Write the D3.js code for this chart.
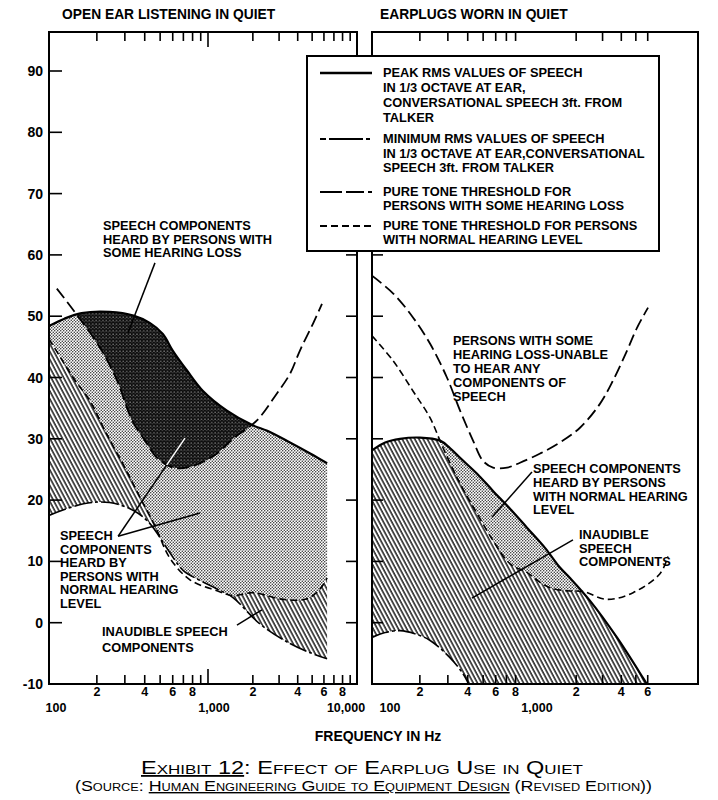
<!DOCTYPE html>
<html>
<head>
<meta charset="utf-8">
<script src="https://cdn.jsdelivr.net/npm/d3@7"></script>
<style>
  body { margin: 0; background: #fff; }
  svg { display: block; }
</style>
</head>
<body>
<svg id="chart" width="718" height="800"></svg>
<script>

// ---- data: [frequency Hz, level dB] ----
const openPeak = [[100, 48.4], [125, 49.6], [160, 50.5], [240, 50.7], [340, 50.1], [430, 48.9], [520, 47.1], [600, 44.4], [740, 41.1], [930, 37.8], [1340, 34.6], [2000, 32.2], [2500, 31.3], [3550, 29.4], [4850, 27.6], [6300, 26.0]];
const openMin = [[100, 17.5], [165, 19.4], [240, 19.6], [340, 18.3], [430, 16.2], [550, 12.2], [700, 8.5], [890, 6.9], [1150, 5.5], [1470, 4.1], [2230, -0.2], [3550, -3.4], [4850, -4.9], [6300, -5.9]];
const openNormal = [[100, 46.3], [146, 39.5], [181, 36.2], [225, 31.3], [300, 25.3], [373, 20.5], [464, 15.8], [577, 10.5], [770, 7.0], [1150, 5.2], [1470, 4.4], [2000, 4.9], [3190, 3.8], [4620, 3.9], [5650, 5.5], [6300, 7.3]];
const openHearingLoss = [[112, 54.5], [146, 50.6], [209, 44.9], [268, 39.5], [333, 33.0], [402, 29.7], [478, 26.9], [603, 25.3], [770, 25.4], [958, 26.4], [1150, 27.6], [1470, 30.0], [2130, 33.0], [2900, 37.4], [3550, 40.6], [4140, 44.4], [5070, 48.8], [5820, 52.0]];

const plugPeak = [[100, 28.1], [121, 29.4], [150, 30.0], [200, 30.2], [268, 29.7], [309, 28.5], [358, 26.9], [458, 24.3], [577, 21.5], [738, 18.6], [944, 15.5], [1240, 12.2], [1560, 9.0], [1820, 7.3], [2470, 3.6], [3740, -2.4], [5580, -9.0], [6300, -11.1]];
const plugMin = [[100, -2.4], [121, -1.6], [150, -1.3], [186, -1.8], [232, -2.9], [309, -5.7], [373, -8.3], [413, -10.4], [478, -13.5]];
const plugNormal = [[100, 46.8], [136, 42.7], [181, 37.8], [232, 33.4], [280, 28.5], [358, 22.7], [458, 17.8], [577, 13.4], [738, 9.6], [944, 8.2], [1100, 6.9], [1340, 5.7], [1740, 5.2], [2220, 5.1], [3210, 3.8], [4790, 4.9], [7240, 8.0], [8190, 10.8]];
const plugHearingLoss = [[100, 56.6], [136, 53.7], [181, 49.8], [232, 45.5], [296, 40.0], [358, 34.6], [432, 29.7], [499, 26.4], [577, 25.3], [707, 25.3], [853, 26.1], [1150, 27.6], [1560, 29.4], [2120, 31.8], [2880, 35.7], [3520, 39.5], [4370, 44.4], [5090, 48.1], [6030, 51.4]];

// ---- ticks and labels ----
const dbTicks = [-10, 0, 10, 20, 30, 40, 50, 60, 70, 80, 90];
const openFreqTicks = [200, 300, 400, 500, 600, 700, 800, 900, 2000, 3000, 4000, 5000, 6000, 7000, 8000, 9000];
const plugFreqTicks = [200, 300, 400, 500, 600, 700, 800, 2000, 3000, 4000, 5000, 6000];
const openDigitTicks = [200, 400, 600, 800, 2000, 4000, 6000, 8000];
const plugDigitTicks = [200, 400, 600, 800, 2000, 4000, 6000];
const openDecades = [100, 1000, 10000];
const plugDecades = [100, 1000];
const decadeNames = { 100: "100", 1000: "1,000", 10000: "10,000" };

const legendTexts = [
    ["PEAK RMS VALUES OF SPEECH", "IN 1/3 OCTAVE AT EAR,", "CONVERSATIONAL SPEECH 3ft. FROM", "TALKER"],
    ["MINIMUM RMS VALUES OF SPEECH", "IN 1/3 OCTAVE AT EAR,CONVERSATIONAL", "SPEECH 3ft. FROM TALKER"],
    ["PURE TONE THRESHOLD FOR", "PERSONS WITH SOME HEARING LOSS"],
    ["PURE TONE THRESHOLD FOR PERSONS", "WITH NORMAL HEARING LEVEL"],
];
const lossLabel = ["SPEECH COMPONENTS", "HEARD BY PERSONS WITH", "SOME HEARING LOSS"];
const openNormalLabel = ["SPEECH", "COMPONENTS", "HEARD BY", "PERSONS WITH", "NORMAL HEARING", "LEVEL"];
const openInaudibleLabel = ["INAUDIBLE SPEECH", "COMPONENTS"];
const unableLabel = ["PERSONS WITH SOME", "HEARING LOSS-UNABLE", "TO HEAR ANY", "COMPONENTS OF", "SPEECH"];
const plugNormalLabel = ["SPEECH COMPONENTS", "HEARD BY PERSONS", "WITH NORMAL HEARING", "LEVEL"];
const plugInaudibleLabel = ["INAUDIBLE", "SPEECH", "COMPONENTS"];

// ---- layout ----
const FONT = "'Liberation Sans', Arial, Helvetica, sans-serif";
const TOP = 32, BOTTOM = 684;
const LABEL_SIZE = 12.8;
const styles = {
    peak: { width: 2.2, dash: null },
    min: { width: 1.6, dash: "18,3,3,3" },
    loss: { width: 1.8, dash: "12,5" },
    normal: { width: 1.6, dash: "7,4" },
};

const svg = d3.select("#chart");
svg.append("rect").attr("width", 718).attr("height", 800).attr("fill", "#fff");
const defs = svg.append("defs");

const y = d3.scaleLinear().domain([-10, 90]).range([BOTTOM, 71]);
const xOpen = d3.scaleLog().domain([100, 1000, 10000]).range([49, 208, 357]);
const xPlug = d3.scaleLog().domain([100, 1000, 10000]).range([372, 531, 681]);

// textures
const hatch = defs.append("pattern").attr("id", "hatch")
    .attr("patternUnits", "userSpaceOnUse")
    .attr("width", 3.7).attr("height", 10)
    .attr("patternTransform", "rotate(-28)");
hatch.append("rect").attr("width", 3.7).attr("height", 10).attr("fill", "#fff");
hatch.append("line").attr("x1", 1).attr("x2", 1).attr("y1", -1).attr("y2", 11)
    .attr("stroke", "#000").attr("stroke-width", 1.35);

const light = defs.append("pattern").attr("id", "lightDots")
    .attr("patternUnits", "userSpaceOnUse").attr("width", 3).attr("height", 3);
light.append("rect").attr("width", 3).attr("height", 3).attr("fill", "#fff");
light.append("circle").attr("cx", 0.75).attr("cy", 0.75).attr("r", 0.72).attr("fill", "#222");
light.append("circle").attr("cx", 2.25).attr("cy", 2.25).attr("r", 0.72).attr("fill", "#222");

const dark = defs.append("pattern").attr("id", "darkDots")
    .attr("patternUnits", "userSpaceOnUse").attr("width", 3.4).attr("height", 3.4);
dark.append("rect").attr("width", 3.4).attr("height", 3.4).attr("fill", "#0c0c0c");
dark.append("circle").attr("cx", 0.9).attr("cy", 0.9).attr("r", 0.58).attr("fill", "#fff");
dark.append("circle").attr("cx", 2.6).attr("cy", 2.4).attr("r", 0.42).attr("fill", "#ddd");

const panels = [
    {
        id: "open", x: xOpen, left: 49, right: 357, title: "OPEN EAR LISTENING IN QUIET", titleX: 62,
        peak: openPeak, min: openMin, normal: openNormal, loss: openHearingLoss,
        ticks: openFreqTicks, tall: true, digits: openDigitTicks, decades: openDecades, decadeDx: [7, 6, -11],
    },
    {
        id: "plug", x: xPlug, left: 372, right: 698, title: "EARPLUGS WORN IN QUIET", titleX: 380,
        peak: plugPeak, min: plugMin, normal: plugNormal, loss: plugHearingLoss,
        ticks: plugFreqTicks, tall: false, digits: plugDigitTicks, decades: plugDecades, decadeDx: [18, 6],
    },
];

const addText = (x, y0, dy, lines, size) => {
    const t = svg.append("text")
        .attr("font-family", FONT).attr("font-weight", "bold").attr("font-size", size || LABEL_SIZE)
        .attr("fill", "#000");
    lines.forEach((s, i) => t.append("tspan").attr("x", x).attr("y", y0 + i * dy).text(s));
    return t;
};

drawPanel = (p) => {
    const line = d3.line()
        .x(d => p.x(d[0]))
        .y(d => y(d[1]))
        .curve(d3.curveCatmullRom.alpha(0.5));
    const upTo = pts => line(pts) +
        `L${p.x(pts[pts.length - 1][0])},${TOP - 10}L${p.x(pts[0][0])},${TOP - 10}Z`;
    const speech = line(p.peak) + line(p.min.slice().reverse()).replace(/^M/, "L") + "Z";

    defs.append("clipPath").attr("id", `frame-${p.id}`)
        .append("rect").attr("x", p.left).attr("y", TOP)
        .attr("width", p.right - p.left).attr("height", BOTTOM - TOP);
    defs.append("clipPath").attr("id", `speech-${p.id}`).append("path").attr("d", speech);
    defs.append("clipPath").attr("id", `loss-${p.id}`).append("path").attr("d", upTo(p.loss));

    const g = svg.append("g").attr("clip-path", `url(#frame-${p.id})`);
    g.append("path").attr("d", speech).attr("fill", "url(#hatch)");

    const inner = g.append("g").attr("clip-path", `url(#speech-${p.id})`);
    inner.append("path").attr("d", upTo(p.normal)).attr("fill", "url(#lightDots)");
    inner.append("path").attr("d", upTo(p.loss)).attr("fill", "url(#darkDots)");

    [["min", p.min], ["normal", p.normal], ["loss", p.loss], ["peak", p.peak]].forEach(([k, pts]) => {
        g.append("path")
            .attr("d", line(pts))
            .attr("fill", "none")
            .attr("stroke", "#000")
            .attr("stroke-width", styles[k].width)
            .attr("stroke-dasharray", styles[k].dash)
            .attr("stroke-linecap", "butt");
    });

    // frame
    svg.append("rect")
        .attr("x", p.left).attr("y", TOP)
        .attr("width", p.right - p.left).attr("height", BOTTOM - TOP)
        .attr("fill", "none").attr("stroke", "#000").attr("stroke-width", 2);

    const ax = svg.append("g").attr("stroke", "#000").attr("stroke-width", 1.6);
    // level ticks on the frame sides
    dbTicks.forEach(v => {
        ax.append("line").attr("x1", p.left).attr("x2", p.left + (p.id === "open" ? 13 : 11))
            .attr("y1", y(v)).attr("y2", y(v));
        if (p.id === "open") {
            ax.append("line").attr("x1", p.right - 11).attr("x2", p.right)
                .attr("y1", y(v)).attr("y2", y(v));
        }
    });
    // frequency ticks, top and bottom
    p.ticks.forEach(f => {
        ax.append("line").attr("x1", p.x(f)).attr("x2", p.x(f)).attr("y1", TOP).attr("y2", TOP + 9);
        ax.append("line").attr("x1", p.x(f)).attr("x2", p.x(f)).attr("y1", BOTTOM).attr("y2", BOTTOM - 9);
    });
    if (p.tall) {
        ax.append("line").attr("x1", p.x(1000)).attr("x2", p.x(1000)).attr("y1", TOP).attr("y2", TOP + 15);
        ax.append("line").attr("x1", p.x(1000)).attr("x2", p.x(1000)).attr("y1", BOTTOM).attr("y2", BOTTOM - 15);
    }

    // labels under the axis
    svg.append("g").selectAll("text")
        .data(p.digits)
        .join("text")
        .attr("x", d => p.x(d))
        .attr("y", 696)
        .attr("text-anchor", "middle")
        .attr("font-family", FONT).attr("font-weight", "bold").attr("font-size", 12.5)
        .text(d => String(d).charAt(0));
    svg.append("g").selectAll("text")
        .data(p.decades)
        .join("text")
        .attr("x", (d, i) => p.x(d) + p.decadeDx[i])
        .attr("y", 712)
        .attr("text-anchor", "middle")
        .attr("font-family", FONT).attr("font-weight", "bold").attr("font-size", 12.5)
        .text(d => decadeNames[d]);

    svg.append("text")
        .attr("x", p.titleX).attr("y", 19)
        .attr("font-family", FONT).attr("font-weight", "bold").attr("font-size", 13.8)
        .text(p.title);
};

panels.forEach(drawPanel);

// level labels
svg.append("g").selectAll("text")
    .data(dbTicks)
    .join("text")
    .attr("x", 43)
    .attr("y", d => y(d) + 5)
    .attr("text-anchor", "end")
    .attr("font-family", FONT).attr("font-weight", "bold").attr("font-size", 14)
    .text(d => d < 0 ? "-" + Math.abs(d) : d);

svg.append("text")
    .attr("x", 378).attr("y", 741)
    .attr("text-anchor", "middle")
    .attr("font-family", FONT).attr("font-weight", "bold").attr("font-size", 14)
    .text("FREQUENCY IN Hz");

// legend
const leg = svg.append("g");
leg.append("rect").attr("x", 307).attr("y", 56).attr("width", 352).attr("height", 195)
    .attr("fill", "#fff").attr("stroke", "#000").attr("stroke-width", 2);
const legendKeys = ["peak", "min", "loss", "normal"];
const legendTop = [77, 143, 196, 230];
const legendStep = [15, 14.5, 13.6, 13.6];
legendTexts.forEach((lines, i) => {
    const k = legendKeys[i];
    leg.append("line")
        .attr("x1", 320).attr("x2", 372)
        .attr("y1", legendTop[i] - 4).attr("y2", legendTop[i] - 4)
        .attr("stroke", "#000").attr("stroke-width", styles[k].width + 0.4)
        .attr("stroke-dasharray", k === "min" ? "6,3,34,3,4" : k === "loss" ? "22,4,18,4,4" : styles[k].dash);
    addText(383, legendTop[i], legendStep[i], lines);
});

// annotations
const lead = (x, a, b, color) => svg.append("line")
    .attr("x1", x(a[0])).attr("y1", y(a[1]))
    .attr("x2", x(b[0])).attr("y2", y(b[1]))
    .attr("stroke", color || "#000").attr("stroke-width", 1.5);

addText(103, 230, 13.6, lossLabel);
lead(xOpen, [464, 58.7], [314, 47.3]);

addText(60, 540, 13.6, openNormalLabel);
lead(xOpen, [272, 14.1], [717, 30.1]);
lead(xOpen, [272, 14.1], [891, 17.9]);
// the part of the leader that runs inside the dark area shows white
const whiteLead = svg.append("g").attr("clip-path", "url(#speech-open)")
    .append("g").attr("clip-path", "url(#loss-open)");
whiteLead.append("line")
    .attr("x1", xOpen(272)).attr("y1", y(14.1))
    .attr("x2", xOpen(717)).attr("y2", y(30.1))
    .attr("stroke", "#fff").attr("stroke-width", 1.5);

addText(102, 636, 15.5, openInaudibleLabel);
lead(xOpen, [1565, -0.4], [2303, 2.1]);

addText(453, 345, 14, unableLabel);
addText(533, 473, 13.8, plugNormalLabel);
lead(xPlug, [1015, 24.6], [568, 17.2]);
addText(579, 539, 13.6, plugInaudibleLabel);
lead(xPlug, [1905, 13.5], [425, 4.0]);

// caption
const cap = svg.append("text")
    .attr("x", 141).attr("y", 774)
    .attr("font-family", FONT).attr("font-size", 18)
    .style("font-variant", "small-caps")
    .attr("textLength", 442).attr("lengthAdjust", "spacingAndGlyphs");
cap.append("tspan").style("text-decoration", "underline").text("Exhibit 12");
cap.append("tspan").text(":  Effect of Earplug Use in Quiet");

const src = svg.append("text")
    .attr("x", 75).attr("y", 791)
    .attr("font-family", FONT).attr("font-size", 14)
    .style("font-variant", "small-caps")
    .attr("textLength", 577).attr("lengthAdjust", "spacingAndGlyphs");
src.append("tspan").text("(Source:  ");
src.append("tspan").style("text-decoration", "underline").text("Human Engineering Guide to Equipment Design");
src.append("tspan").text(" (Revised Edition))");

</script>
</body>
</html>
